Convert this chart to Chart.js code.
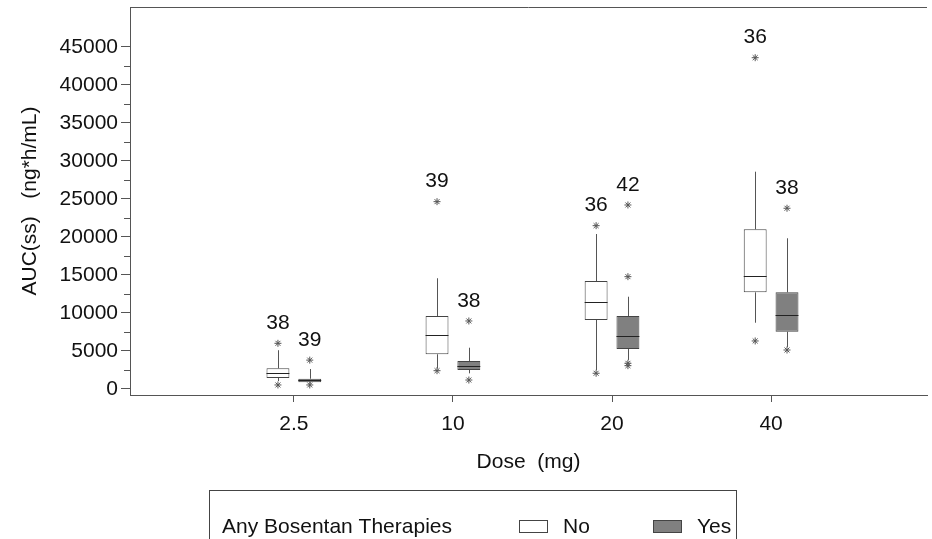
<!DOCTYPE html>
<html>
<head>
<meta charset="utf-8">
<script src="https://cdn.jsdelivr.net/npm/chart.js@4.4.1/dist/chart.umd.min.js"></script>
<style>
  html, body { margin: 0; padding: 0; background: #fff; }
  #auc { display: block; }
</style>
</head>
<body>
<canvas id="auc" width="932" height="539"></canvas>
<script>
const doses = ["2.5", "10", "20", "40"];
const groups = ["No", "Yes"];
const legendTitle = "Any Bosentan Therapies";

// No bosentan
const noQ1 = [1450, 4570, 9080, 12720];
const noMedian = [2140, 7100, 11410, 14830];
const noQ3 = [2720, 9600, 14210, 21010];
const noLow = [1050, 2700, 2500, 8720];
const noHigh = [5100, 14570, 20390, 28590];
const noOutliers = [[530, 6010], [2410, 24650], [2070, 21490], [6320, 43590]];
const noN = [38, 39, 36, 36];

// Yes bosentan
const yesQ1 = [880, 2500, 5260, 7540];
const yesMedian = [1120, 3070, 6970, 9740];
const yesQ3 = [1350, 3680, 9600, 12720];
const yesLow = [720, 2060, 3820, 5530];
const yesHigh = [2630, 5430, 12140, 19830];
const yesOutliers = [[530, 3800], [1180, 8950], [3070, 3380, 14780, 24210], [5130, 23780]];
const yesN = [39, 38, 42, 38];

const yMajor = [0, 5000, 10000, 15000, 20000, 25000, 30000, 35000, 40000, 45000];
const yMinor = [2500, 7500, 12500, 17500, 22500, 27500, 32500, 37500, 42500];

const FONT = "'Liberation Sans', Arial, sans-serif";
const INK = "#111";
const LINE = "#444";
const fills = ["#ffffff", "#808080"];
const shift = [-0.1, 0.1]; // half of categoryPercentage / 2

const stats = [
  { q1: noQ1, med: noMedian, q3: noQ3, lo: noLow, hi: noHigh, out: noOutliers, n: noN },
  { q1: yesQ1, med: yesMedian, q3: yesQ3, lo: yesLow, hi: yesHigh, out: yesOutliers, n: yesN }
];

const boxSets = stats.map((s, g) => ({
  type: "bar",
  label: groups[g],
  data: doses.map((d, i) => ({ x: i, y: [s.q1[i], s.q3[i]] })),
  backgroundColor: fills[g],
  borderColor: LINE,
  borderWidth: 1,
  borderSkipped: false,
  categoryPercentage: 0.4,
  barPercentage: 0.72
}));

const outlierSets = stats.map((s, g) => ({
  type: "scatter",
  label: groups[g] + " outliers",
  data: s.out.flatMap((vals, i) => vals.map(v => ({ x: i + shift[g], y: v }))),
  pointStyle: "star",
  radius: 3.5,
  borderColor: "#555",
  borderWidth: 1,
  backgroundColor: "#555"
}));

const boxExtras = {
  id: "boxExtras",
  afterDatasetsDraw(chart) {
    const ctx = chart.ctx;
    const y = chart.scales.y;
    ctx.save();
    stats.forEach((s, g) => {
      const meta = chart.getDatasetMeta(g);
      meta.data.forEach((bar, i) => {
        const { x, width } = bar.getProps(["x", "width"], true);
        ctx.strokeStyle = "#555";
        ctx.lineWidth = 1;
        const cx = Math.round(x) + 0.5;
        ctx.beginPath();
        ctx.moveTo(cx, y.getPixelForValue(s.q3[i]));
        ctx.lineTo(cx, y.getPixelForValue(s.hi[i]));
        ctx.moveTo(cx, y.getPixelForValue(s.q1[i]));
        ctx.lineTo(cx, y.getPixelForValue(s.lo[i]));
        ctx.stroke();
        ctx.strokeStyle = "#222";
        const my = Math.round(y.getPixelForValue(s.med[i])) + 0.5;
        ctx.beginPath();
        ctx.moveTo(x - width / 2, my);
        ctx.lineTo(x + width / 2, my);
        ctx.stroke();
        const top = Math.max(s.hi[i], ...s.out[i]);
        ctx.fillStyle = INK;
        ctx.font = "21px " + FONT;
        ctx.textAlign = "center";
        ctx.textBaseline = "middle";
        ctx.fillText(String(s.n[i]), x, y.getPixelForValue(top) - 20);
      });
    });
    ctx.restore();
  },
  afterDraw(chart) {
    const ctx = chart.ctx;
    const { left, top, right } = chart.chartArea;
    const y = chart.scales.y;
    ctx.save();
    ctx.strokeStyle = "#555";
    ctx.lineWidth = 1;
    // frame top
    ctx.beginPath();
    ctx.moveTo(left, top + 0.5);
    ctx.lineTo(right, top + 0.5);
    ctx.stroke();
    // minor ticks
    ctx.beginPath();
    yMinor.forEach(v => {
      const py = Math.round(y.getPixelForValue(v)) + 0.5;
      ctx.moveTo(left - 6, py);
      ctx.lineTo(left, py);
    });
    ctx.stroke();

    // legend box
    ctx.strokeStyle = LINE;
    ctx.strokeRect(209.5, 490.5, 527, 70);
    ctx.fillStyle = INK;
    ctx.font = "21px " + FONT;
    ctx.textAlign = "left";
    ctx.textBaseline = "middle";
    ctx.fillText(legendTitle, 222, 527);
    groups.forEach((name, g) => {
      const sx = 519 + g * 134;
      ctx.fillStyle = fills[g];
      ctx.fillRect(sx + 0.5, 520.5, 28, 12);
      ctx.strokeStyle = LINE;
      ctx.strokeRect(sx + 0.5, 520.5, 28, 12);
      ctx.fillStyle = INK;
      ctx.fillText(name, sx + 44, 527);
    });
    ctx.restore();
  }
};

new Chart(document.getElementById("auc"), {
  data: { datasets: [...boxSets, ...outlierSets] },
  options: {
    responsive: false,
    animation: false,
    devicePixelRatio: 1,
    layout: { padding: { top: 7, right: 0, left: 0, bottom: 0 } },
    plugins: { legend: { display: false }, tooltip: { enabled: false } },
    scales: {
      x: {
        type: "linear",
        offset: false,
        min: -1.03,
        max: 3.98,
        grid: { display: true, offset: false, drawOnChartArea: false, drawTicks: true, tickLength: 7, tickColor: "#555" },
        border: { display: true, color: "#555", width: 1 },
        afterBuildTicks: s => { s.ticks = doses.map((d, i) => ({ value: i })); },
        afterFit: s => { s.height = 144; s.paddingLeft = 0; s.paddingRight = 0; },
        ticks: {
          autoSkip: false,
          maxRotation: 0,
          padding: 10,
          color: INK,
          font: { family: FONT, size: 21 },
          callback: v => doses[v]
        },
        title: {
          display: true,
          text: "Dose  (mg)",
          color: INK,
          font: { family: FONT, size: 21 },
          padding: { top: 0, bottom: 64 }
        }
      },
      y: {
        type: "linear",
        min: -790,
        max: 50260,
        grid: { display: true, drawOnChartArea: false, drawTicks: true, tickLength: 9, tickColor: "#555" },
        border: { display: true, color: "#555", width: 1 },
        afterBuildTicks: s => { s.ticks = yMajor.map(v => ({ value: v })); },
        afterFit: s => { s.width = 130; s.paddingTop = 0; s.paddingBottom = 0; },
        ticks: {
          padding: 3,
          color: INK,
          font: { family: FONT, size: 21 },
          callback: v => String(v)
        },
        title: {
          display: true,
          text: "AUC(ss)   (ng*h/mL)",
          color: INK,
          font: { family: FONT, size: 21 },
          padding: { top: 18, bottom: 0 }
        }
      }
    }
  },
  plugins: [boxExtras]
});
</script>
</body>
</html>
